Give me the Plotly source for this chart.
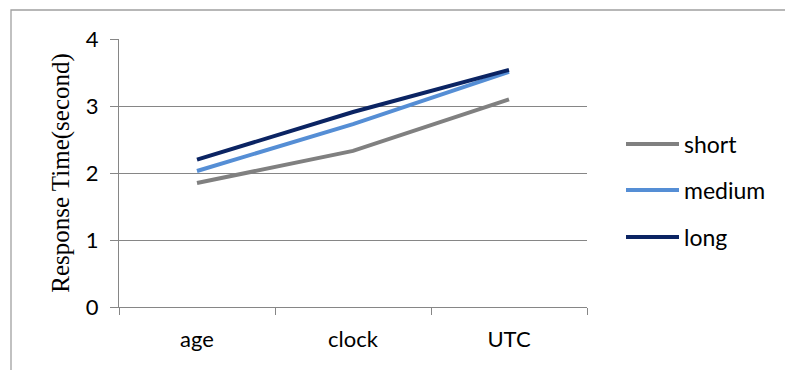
import plotly.graph_objects as go

# Categories and response times (seconds) per message length
categories = ["age", "clock", "UTC"]
series_names = ["short", "medium", "long"]
short_vals = [1.85, 2.33, 3.10]
medium_vals = [2.03, 2.73, 3.51]
long_vals = [2.20, 2.91, 3.54]
y_ticks = [0, 1, 2, 3, 4]

series_values = [short_vals, medium_vals, long_vals]
colors = ["#808080", "#558ED5", "#0B2463"]

W, H = 785, 370
L, R, T, B = 119, 198, 39, 63
plot_w = W - L - R
plot_h = H - T - B

fig = go.Figure()
for name, vals, col in zip(series_names, series_values, colors):
    fig.add_trace(go.Scatter(
        x=categories, y=vals, name=name, mode="lines",
        line=dict(color=col, width=4), showlegend=False,
    ))

tick_font = dict(family="Lato, Carlito, sans-serif", size=22, color="#000000")
legend_font = dict(family="Lato, Carlito, sans-serif", size=23, color="#000000")
axis_col = "#868686"

fig.update_layout(
    width=W, height=H,
    margin=dict(l=L, r=R, t=T, b=B),
    paper_bgcolor="white", plot_bgcolor="white",
    xaxis=dict(
        type="category", range=[-0.5, 2.5], tickson="boundaries",
        ticks="outside", ticklen=7, tickcolor=axis_col, tickwidth=1.3,
        showline=True, linecolor=axis_col, linewidth=1.3,
        showgrid=False, tickfont=tick_font, ticklabelstandoff=12,
    ),
    yaxis=dict(
        range=[0, 4], tickvals=y_ticks, ticks="outside", ticklen=8,
        tickcolor=axis_col, tickwidth=1.3,
        showline=True, linecolor=axis_col, linewidth=1.3,
        showgrid=True, gridcolor=axis_col, gridwidth=1.3,
        zeroline=False, tickfont=tick_font, ticklabelstandoff=7,
        title=dict(text="Response Time(second)", standoff=8,
                   font=dict(family="Liberation Serif, Times New Roman, serif",
                             size=25, color="#000000")),
    ),
)

# Chart-area border
fig.add_shape(type="rect", xref="paper", yref="paper",
              x0=(11 - L) / plot_w, x1=(W + 5 - L) / plot_w,
              y0=-(H + 5 - T - plot_h) / plot_h, y1=(plot_h + T - 10) / plot_h,
              line=dict(color="#A0A0A0", width=1.3), layer="below")

# Legend drawn on the right: swatch line + label per series
leg_x0, leg_x1, leg_tx = 626, 679, 682
leg_y = [144, 190, 237]
for name, col, yy in zip(series_names, colors, leg_y):
    py = (H - B - yy) / plot_h
    fig.add_shape(type="line", xref="paper", yref="paper",
                  x0=(leg_x0 - L) / plot_w, x1=(leg_x1 - L) / plot_w,
                  y0=py, y1=py, line=dict(color=col, width=4))
    fig.add_annotation(x=(leg_tx - L) / plot_w, y=py, xref="paper", yref="paper",
                       text=name, showarrow=False, xanchor="left", yanchor="middle",
                       font=legend_font)

fig.write_html("out.html")
